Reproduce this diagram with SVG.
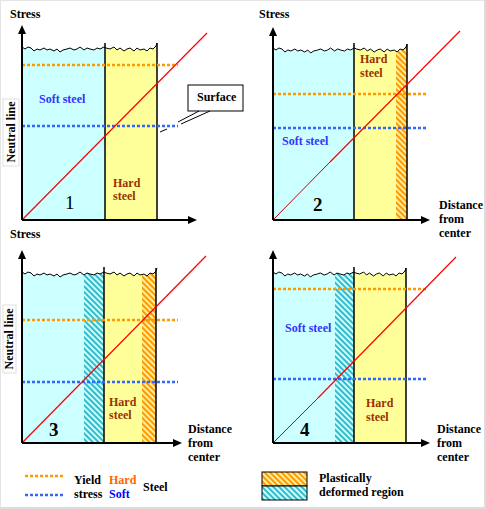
<svg xmlns="http://www.w3.org/2000/svg" width="486" height="509" viewBox="0 0 486 509" font-family="'Liberation Serif', 'DejaVu Serif', serif">
<style>
text{font-family:'Liberation Serif','DejaVu Serif',serif;font-weight:700;font-size:12px;fill:#000}
.soft{fill:#3333ff}
.hard{fill:#993300}
.num{font-size:19px}
.axis{stroke:#000;stroke-width:2;fill:none}
.edge{stroke:#000;stroke-width:1.5;fill:none}
.ydot{stroke:#ff9900;stroke-width:2.5;stroke-dasharray:3 2;fill:none}
.bdot{stroke:#3366ff;stroke-width:2.5;stroke-dasharray:3 2;fill:none}
.red{stroke:#ff0000;stroke-width:1.2;fill:none}
.cyan{fill:#ccffff}
.yel{fill:#ffff99}
</style>
<defs>
<pattern id="hO" width="4" height="4" patternUnits="userSpaceOnUse" patternTransform="rotate(-45)">
<rect width="4" height="4" fill="#ffee99"/><rect width="2" height="4" fill="#ff9900"/>
</pattern>
<pattern id="hC" width="4" height="4" patternUnits="userSpaceOnUse" patternTransform="rotate(-45)">
<rect width="4" height="4" fill="#ccffff"/><rect width="2" height="4" fill="#33bbcc"/>
</pattern>
<path id="wave" d="M0,0 L0,4 L3,6 L6,4 L9,5 L12,8 L15,6 L18,7 L22,5 L25,7 L28,6 L32,8 L35,6 L38,9 L41,7 L45,6 L48,5 L52,7 L55,6 L58,4 L62,7 L65,5 L68,6 L72,7 L75,5 L78,6 L82,4 L84,5 L88,6 L92,4 L95,7 L98,5 L102,8 L105,6 L108,5 L112,8 L115,5 L118,7 L122,6 L125,8 L128,5 L131,6 L134,3 L135,0" fill="#fff" stroke="#000" stroke-width="1"/>
<path id="yarrow" d="M0,0 L-4,9 L4,9 Z" fill="#000"/>
<path id="xarrow" d="M0,0 L-9,-4 L-9,4 Z" fill="#000"/>
</defs>
<rect x="0.5" y="0.5" width="484" height="507" fill="#fff" stroke="#e4e4e4" stroke-width="1"/>
<line x1="485" y1="0" x2="485" y2="509" stroke="#dcdcdc" stroke-width="2"/>
<line x1="0" y1="508" x2="486" y2="508" stroke="#dcdcdc" stroke-width="2"/>

<g id="panel1">
<rect class="cyan" x="22" y="43" width="83" height="177"/>
<rect class="yel" x="105" y="43" width="52" height="177"/>
<use href="#wave" x="22" y="43"/>
<line class="edge" x1="105" y1="43" x2="105" y2="220"/>
<line class="edge" x1="157" y1="43" x2="157" y2="220"/>
<line class="ydot" x1="22" y1="65" x2="178" y2="65"/>
<line class="bdot" x1="22" y1="126" x2="178" y2="126"/>
<line class="red" x1="22" y1="220" x2="207" y2="33"/>
<line class="axis" x1="22" y1="220" x2="22" y2="30"/>
<use href="#yarrow" x="22" y="25"/>
<line class="axis" x1="22" y1="220" x2="190" y2="220"/>
<use href="#xarrow" x="197" y="220"/>
<text x="10" y="18">Stress</text>
<rect x="3" y="99" width="16" height="67" fill="#fff" stroke="#e0e0e0"/>
<text transform="translate(15,132) rotate(-90)" text-anchor="middle">Neutral line</text>
<text class="soft" x="39" y="103">Soft steel</text>
<text class="hard" x="113" y="187">Hard</text>
<text class="hard" x="113" y="200">steel</text>
<text class="num" x="65" y="209" style="font-weight:400">1</text>
</g>

<g id="surface">
<rect x="188" y="85" width="55" height="26" fill="#fff" stroke="#000" stroke-width="1"/>
<text x="197" y="101">Surface</text>
<line x1="199" y1="111" x2="178" y2="122" stroke="#000" stroke-width="1"/>
<line x1="210" y1="111" x2="181" y2="124" stroke="#000" stroke-width="1"/>
<line x1="160" y1="132" x2="167" y2="129" stroke="#000" stroke-width="1"/>
</g>

<g id="panel2">
<rect class="cyan" x="273" y="44" width="81" height="176"/>
<rect class="yel" x="354" y="44" width="53" height="176"/>
<rect fill="url(#hO)" x="396" y="44" width="11" height="176"/>
<use href="#wave" transform="translate(273,44) scale(0.993,1)"/>
<line class="edge" x1="354" y1="43" x2="354" y2="220"/>
<line class="edge" x1="407" y1="44" x2="407" y2="220"/>
<line class="ydot" x1="273" y1="94" x2="428" y2="94"/>
<line class="bdot" x1="273" y1="128" x2="428" y2="128"/>
<line stroke="#cc0000" stroke-width="1" x1="273" y1="220" x2="330" y2="162"/>
<line class="red" x1="330" y1="162" x2="460" y2="31"/>
<line class="axis" x1="273" y1="220" x2="273" y2="32"/>
<use href="#yarrow" x="273" y="27"/>
<line class="axis" x1="273" y1="220" x2="423" y2="220"/>
<use href="#xarrow" x="430" y="220"/>
<text x="259" y="18">Stress</text>
<text class="hard" x="360" y="63">Hard</text>
<text class="hard" x="360" y="77">steel</text>
<text class="soft" x="282" y="145">Soft steel</text>
<text class="num" x="313" y="211">2</text>
<text x="439" y="209">Distance</text>
<text x="439" y="223">from</text>
<text x="439" y="237">center</text>
</g>

<g id="panel3">
<rect class="cyan" x="22" y="268" width="82" height="175"/>
<rect fill="url(#hC)" x="84" y="268" width="20" height="175"/>
<rect class="yel" x="104" y="268" width="52" height="175"/>
<rect fill="url(#hO)" x="142" y="268" width="14" height="175"/>
<use href="#wave" x="22" y="268"/>
<line class="edge" x1="104" y1="267" x2="104" y2="443"/>
<line class="edge" x1="156" y1="268" x2="156" y2="443"/>
<line class="ydot" x1="22" y1="320" x2="178" y2="320"/>
<line class="bdot" x1="22" y1="382" x2="178" y2="382"/>
<line class="red" x1="22" y1="443" x2="206" y2="256"/>
<line class="axis" x1="22" y1="443" x2="22" y2="255"/>
<use href="#yarrow" x="22" y="250"/>
<line class="axis" x1="22" y1="443" x2="175" y2="443"/>
<use href="#xarrow" x="182" y="443"/>
<text x="10" y="238">Stress</text>
<rect x="3" y="305" width="13" height="68" fill="#fff" stroke="#e0e0e0"/>
<text transform="translate(13,339) rotate(-90)" text-anchor="middle">Neutral line</text>
<text class="hard" x="109" y="406">Hard</text>
<text class="hard" x="109" y="419">steel</text>
<text class="num" x="49" y="436">3</text>
<text x="188" y="433">Distance</text>
<text x="188" y="447">from</text>
<text x="188" y="461">center</text>
</g>

<g id="panel4">
<rect class="cyan" x="273" y="268" width="81" height="175"/>
<rect fill="url(#hC)" x="335" y="268" width="19" height="175"/>
<rect class="yel" x="354" y="268" width="52" height="175"/>
<use href="#wave" transform="translate(273,268) scale(0.985,1)"/>
<line class="edge" x1="354" y1="267" x2="354" y2="443"/>
<line class="edge" x1="406" y1="268" x2="406" y2="443"/>
<line class="ydot" x1="273" y1="289" x2="428" y2="289"/>
<line class="bdot" x1="273" y1="379" x2="428" y2="379"/>
<line stroke="#cc0000" stroke-width="1" x1="273" y1="443" x2="318" y2="398"/>
<line class="red" x1="318" y1="398" x2="456" y2="257"/>
<line class="axis" x1="273" y1="443" x2="273" y2="255"/>
<use href="#yarrow" x="273" y="250"/>
<line class="axis" x1="273" y1="443" x2="423" y2="443"/>
<use href="#xarrow" x="430" y="443"/>
<text class="soft" x="285" y="332">Soft steel</text>
<text class="hard" x="366" y="407">Hard</text>
<text class="hard" x="366" y="421">steel</text>
<text class="num" x="300" y="436">4</text>
<text x="437" y="433">Distance</text>
<text x="437" y="447">from</text>
<text x="437" y="461">center</text>
</g>

<g id="legend-yield">
<line class="ydot" x1="25" y1="476" x2="63" y2="476"/>
<line class="bdot" x1="25" y1="495" x2="63" y2="495"/>
<text x="74" y="484">Yield</text>
<text x="74" y="498">stress</text>
<text x="109" y="484" style="fill:#ff6600">Hard</text>
<text x="109" y="498" style="fill:#0000ff">Soft</text>
<text x="143" y="491">Steel</text>
</g>

<g id="legend-plastic">
<rect x="262" y="472" width="45" height="14" fill="url(#hO)" stroke="#000" stroke-width="1"/>
<rect x="262" y="486" width="45" height="14" fill="url(#hC)" stroke="#000" stroke-width="1"/>
<text x="319" y="482">Plastically</text>
<text x="319" y="496">deformed region</text>
</g>
</svg>
